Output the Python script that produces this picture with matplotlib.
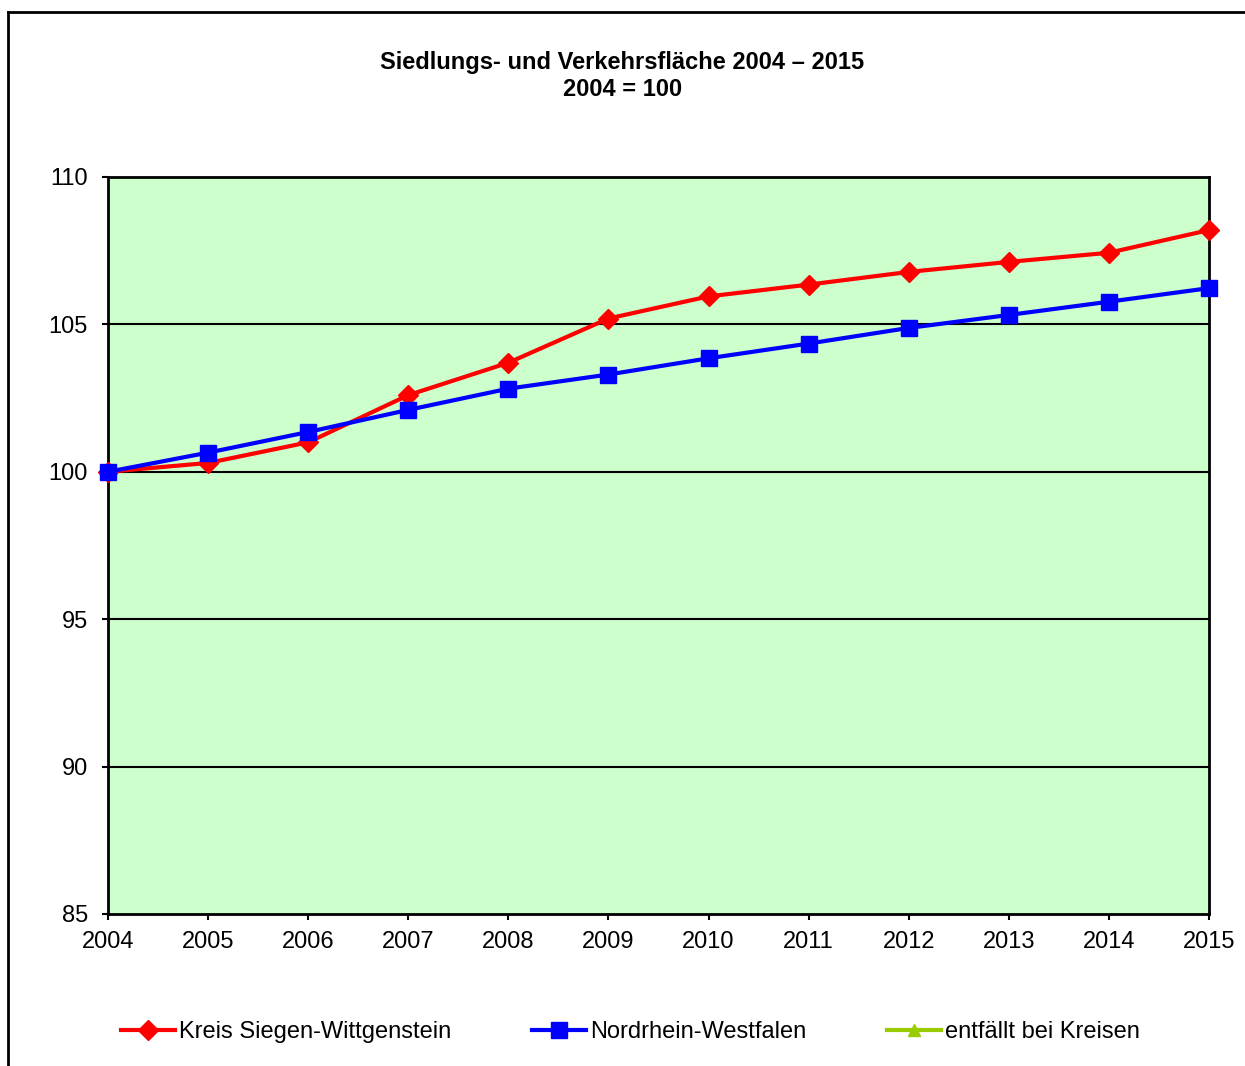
import matplotlib.pyplot as plt
from matplotlib.lines import Line2D

plt.rcParams['font.family'] = ['Liberation Sans', 'DejaVu Sans']

years = [2004, 2005, 2006, 2007, 2008, 2009, 2010, 2011, 2012, 2013, 2014, 2015]
kreis = [100.0, 100.3, 101.0, 102.6, 103.7, 105.2, 105.95, 106.35, 106.78, 107.12, 107.43, 108.2]
nrw = [100.0, 100.65, 101.35, 102.1, 102.82, 103.3, 103.85, 104.35, 104.88, 105.32, 105.77, 106.23]
labels = ['Kreis Siegen-Wittgenstein', 'Nordrhein-Westfalen', 'entfällt bei Kreisen']
y_ticks = [85, 90, 95, 100, 105, 110]

fig = plt.figure(figsize=(12.45, 10.66), dpi=100)
ax = fig.add_axes([108 / 1245, 1 - 914 / 1066, (1209 - 108) / 1245, (914 - 177) / 1066])
ax.set_facecolor('#ccffcc')

l1, = ax.plot(years, kreis, color='#ff0000', lw=3, marker='D', ms=10.5, label=labels[0], zorder=3, clip_on=False)
l2, = ax.plot(years, nrw, color='#0000ff', lw=3, marker='s', ms=12, label=labels[1], zorder=4, clip_on=False)
l3, = ax.plot([], [], color='#99cc00', lw=3, marker='^', ms=9, label=labels[2])

ax.set_xlim(years[0], years[-1])
ax.set_ylim(85, 110)
ax.set_xticks(years)
ax.set_yticks(y_ticks)
ax.tick_params(labelsize=17, length=4.5, width=1.5, color='black')
ax.tick_params(axis='x', pad=8)
ax.tick_params(axis='y', pad=10)
for y in y_ticks[1:-1]:
    ax.axhline(y, color='black', lw=1.5, zorder=1)
for s in ax.spines.values():
    s.set_linewidth(2)

fig.text(0.5, 1 - 62 / 1066, 'Siedlungs- und Verkehrsfläche 2004 – 2015', ha='center', va='center',
         fontsize=17, fontweight='bold')
fig.text(0.5, 1 - 90 / 1066, '2004 = 100', ha='center', va='center', fontsize=17, fontweight='bold')

fig.legend(handles=[l1, l2, l3], loc='center', bbox_to_anchor=(0.5064, 1 - 1032 / 1066), ncol=3,
           frameon=False, fontsize=17, handlelength=2.3, handletextpad=0.17, columnspacing=3.4)

# outer chart frame (cut off at right and bottom)
fig.add_artist(Line2D([8 / 1245, 1.0], [1 - 12 / 1066, 1 - 12 / 1066], color='black', lw=2))
fig.add_artist(Line2D([8 / 1245, 8 / 1245], [0.0, 1 - 12 / 1066], color='black', lw=2))

fig.savefig('out.png', dpi=100)
